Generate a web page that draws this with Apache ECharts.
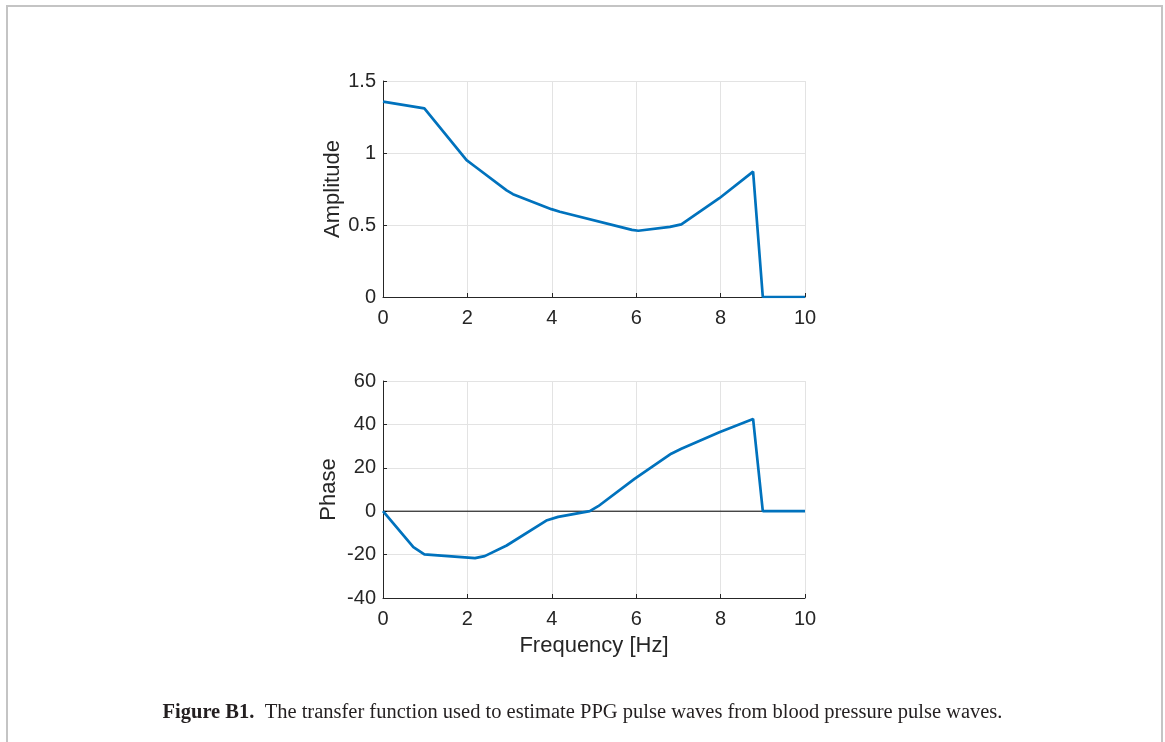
<!DOCTYPE html>
<html>
<head>
<meta charset="utf-8">
<script src="https://cdn.jsdelivr.net/npm/echarts@6/dist/echarts.min.js"></script>
<style>
html,body{margin:0;padding:0;background:#fff;}
#chart{width:1165px;height:742px;}
</style>
</head>
<body>
<div id="chart"></div>
<script>
// Amplitude of transfer function
var ampFreq = [0, 0.98, 1.98, 2.18, 2.93, 3.08, 3.99, 4.19, 5.9, 6.05, 6.8, 7.07, 7.97, 8.77, 9.0, 10];
var ampVals = [1.357, 1.31, 0.95, 0.906, 0.74, 0.714, 0.61, 0.592, 0.466, 0.46, 0.487, 0.504, 0.686, 0.871, 0, 0];
// Phase of transfer function
var phaseFreq = [0, 0.72, 0.98, 2.18, 2.41, 2.93, 3.87, 4.15, 4.9, 5.1, 5.96, 6.83, 7.07, 7.97, 8.77, 9.0, 10];
var phaseVals = [0, -16.6, -19.9, -21.6, -20.7, -15.8, -4.3, -2.6, 0, 2.3, 14.9, 26.5, 28.8, 36.4, 42.5, 0, 0];
// Zero reference line on phase plot
var zeroFreq = [0, 10];
var zeroVals = [0, 0];
var captionBold = 'Figure B1.';
var captionText = 'The transfer function used to estimate PPG pulse waves from blood pressure pulse waves.';

function zip(a, b) { return a.map(function (v, i) { return [v, b[i]]; }); }

var txt = '#262626';
var gridCol = '#e3e3e3';
var fontFam = '"Liberation Sans", Arial, sans-serif';
var serif = '"Liberation Serif", "DejaVu Serif", serif';

function xAx(idx, name) {
  return {
    type: 'value', gridIndex: idx, min: 0, max: 10, interval: 2,
    name: name || '', nameLocation: 'middle', nameGap: 37,
    nameTextStyle: { fontFamily: fontFam, fontSize: 22, color: txt },
    axisLine: { show: true, onZero: false, lineStyle: { color: txt, width: 1 } },
    axisTick: { show: true, inside: true, length: 4, lineStyle: { color: txt } },
    axisLabel: { fontFamily: fontFam, fontSize: 20, color: txt, margin: 11 },
    splitLine: { show: true, lineStyle: { color: gridCol, width: 1 } }
  };
}
function yAx(idx, name, min, max, interval, gap) {
  return {
    type: 'value', gridIndex: idx, min: min, max: max, interval: interval,
    name: name, nameLocation: 'middle', nameGap: gap,
    nameTextStyle: { fontFamily: fontFam, fontSize: 22, color: txt },
    axisLine: { show: true, onZero: false, lineStyle: { color: txt, width: 1 } },
    axisTick: { show: true, inside: true, length: 4, lineStyle: { color: txt } },
    axisLabel: { fontFamily: fontFam, fontSize: 20, color: txt, margin: 7 },
    splitLine: { show: true, lineStyle: { color: gridCol, width: 1 } }
  };
}

var chart = echarts.init(document.getElementById('chart'), null, { renderer: 'canvas' });
chart.setOption({
  backgroundColor: '#ffffff',
  animation: false,
  grid: [
    { left: 383, top: 81, width: 422, height: 216 },
    { left: 383, top: 381, width: 422, height: 217 }
  ],
  xAxis: [xAx(0), xAx(1, 'Frequency [Hz]')],
  yAxis: [yAx(0, 'Amplitude', 0, 1.5, 0.5, 39), yAx(1, 'Phase', -40, 60, 20, 43)],
  title: {
    left: 'center', top: 697,
    text: '{b|' + captionBold + '}  {r|' + captionText + '}',
    textStyle: {
      fontWeight: 'normal', fontFamily: serif, fontSize: 20.5,
      rich: {
        b: { fontFamily: serif, fontWeight: 'bold', fontSize: 20.5, color: '#231f20' },
        r: { fontFamily: serif, fontWeight: 'normal', fontSize: 20.5, color: '#231f20' }
      }
    }
  },
  graphic: [{
    type: 'rect', silent: true, z: -1,
    shape: { x: 7, y: 6, width: 1155, height: 780 },
    style: { fill: 'none', stroke: '#c4c4c4', lineWidth: 2 }
  }],
  series: [
    {
      type: 'line', xAxisIndex: 0, yAxisIndex: 0, data: zip(ampFreq, ampVals),
      showSymbol: false, symbol: 'none', z: 3,
      lineStyle: { color: '#0072BD', width: 2.7 }
    },
    {
      type: 'line', xAxisIndex: 1, yAxisIndex: 1, data: zip(zeroFreq, zeroVals),
      showSymbol: false, symbol: 'none', z: 2,
      lineStyle: { color: '#000000', width: 1 }
    },
    {
      type: 'line', xAxisIndex: 1, yAxisIndex: 1, data: zip(phaseFreq, phaseVals),
      showSymbol: false, symbol: 'none', z: 3,
      lineStyle: { color: '#0072BD', width: 2.7 }
    }
  ]
});
</script>
</body>
</html>
